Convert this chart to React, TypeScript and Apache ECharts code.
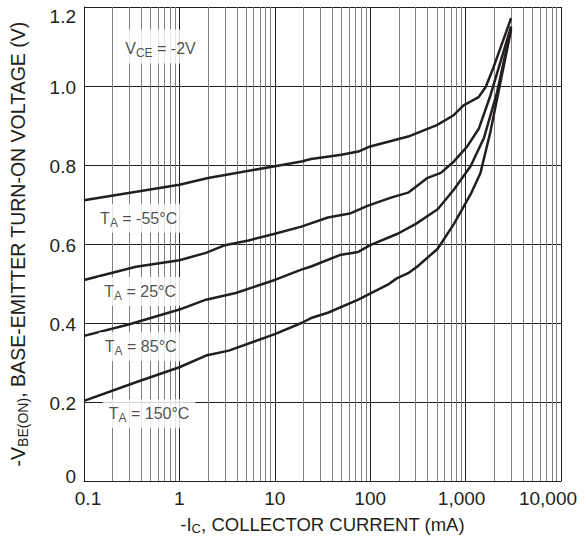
import React, { useEffect, useRef } from 'react';
import * as echarts from 'echarts';

// Collector current (mA) vs base-emitter turn-on voltage (V)
const tempMinus55: [number, number][] = [
  [0.1, 0.711], [1, 0.75], [2, 0.767], [10, 0.797], [19, 0.809], [24, 0.815], [50, 0.826],
  [75, 0.834], [100, 0.847], [250, 0.872], [500, 0.901], [750, 0.926], [950, 0.951],
  [1370, 0.972], [1620, 0.997], [1960, 1.047], [3000, 1.172],
];
const temp25: [number, number][] = [
  [0.1, 0.509], [0.35, 0.5425], [1, 0.559], [1.9, 0.5775], [3, 0.597], [5.3, 0.609],
  [10, 0.626], [19, 0.644], [36, 0.667], [61, 0.677], [95, 0.697], [165, 0.7175],
  [250, 0.73], [400, 0.7675], [550, 0.78], [755, 0.809], [1040, 0.847], [1380, 0.8925],
  [1820, 0.976], [3000, 1.151],
];
const temp85: [number, number][] = [
  [0.1, 0.3675], [0.3, 0.397], [1, 0.434], [1.9, 0.459], [3.9, 0.476], [10, 0.509],
  [19, 0.535], [24, 0.543], [48, 0.572], [75, 0.58], [100, 0.597], [194, 0.626],
  [301, 0.651], [510, 0.688], [755, 0.738], [1127, 0.797], [1552, 0.8675],
  [2138, 0.984], [3000, 1.148],
];
const temp150: [number, number][] = [
  [0.1, 0.203], [0.35, 0.25], [1, 0.288], [1.9, 0.3175], [3.3, 0.33], [10, 0.372],
  [19, 0.4], [24, 0.4125], [36, 0.426], [75, 0.459], [95, 0.472],
  [153, 0.497], [190, 0.513], [250, 0.526], [310, 0.5425], [510, 0.588], [755, 0.651],
  [1130, 0.726], [1432, 0.78], [1820, 0.884], [2316, 1.009], [3000, 1.1425],
];

const xTickLabels: Record<number, string> = {
  [-1]: '{a|0.1}', 0: '{n|1}', 1: '{n|10}', 2: '{n|100}', 3: '{c|1,000}', 4: '{d|10,000}',
};
const minorDecades = [0.1, 1, 10, 100, 1000];
const minorSteps = [2, 3, 4, 5, 6, 7, 8, 9];

const annotationTexts = [
  '{m|V}{s|CE}{m| = -2V}',
  '{m|T}{s|A}{m| = -55°C}',
  '{m|T}{s|A}{m| = 25°C}',
  '{m|T}{s|A}{m| = 85°C}',
  '{m|T}{s|A}{m| = 150°C}',
];
const annotationAnchors: [number, number][] = [
  [0.634, 1.1], [0.374, 0.665], [0.388, 0.48], [0.393, 0.34], [0.481, 0.17],
];

const INK = '#231f20';
const FONT = '"Liberation Sans", Arial, sans-serif';

export default function App() {
  const ref = useRef<HTMLDivElement>(null);
  useEffect(() => {
    document.body.style.margin = '0';
    if (!ref.current) return;
    const chart = echarts.init(ref.current, undefined, { renderer: 'svg' });
    const minorValues: number[] = [];
    minorDecades.forEach((d) => minorSteps.forEach((k) => minorValues.push(d * k)));
    const curveSeries = [tempMinus55, temp25, temp85, temp150].map((data, i) => ({
      name: 'curve' + i,
      type: 'line',
      data,
      showSymbol: false,
      symbol: 'none',
      z: 3,
      lineStyle: { color: INK, width: 2.5 },
    }));
    const labelRich = {
      m: { fontSize: 16, color: INK, fontFamily: FONT },
      s: { fontSize: 12, color: INK, fontFamily: FONT, padding: [9, 0, 0, 0] },
    };
    chart.setOption({
      animation: false,
      backgroundColor: '#fff',
      textStyle: { fontFamily: FONT },
      grid: { left: 81, top: 7, right: 25, bottom: 53, containLabel: false },
      xAxis: {
        type: 'log',
        logBase: 10,
        min: 0.1,
        max: 10000,
        axisLine: { show: true, lineStyle: { color: INK, width: 1 } },
        axisTick: { show: false },
        splitLine: { show: true, lineStyle: { color: INK, width: 1 } },
        axisLabel: {
          margin: 8,
          fontSize: 19,
          color: INK,
          formatter: (v: number) => xTickLabels[Math.round(Math.log10(v))] ?? String(v),
          rich: {
            a: { fontSize: 19, color: INK, padding: [0, 0, 0, 8] },
            n: { fontSize: 19, color: INK },
            c: { fontSize: 19, color: INK, padding: [0, 8, 0, 0] },
            d: { fontSize: 19, color: INK, padding: [0, 26, 0, 0] },
          },
        },
        name: '-I{s|C}, COLLECTOR CURRENT (mA)',
        nameLocation: 'middle',
        nameGap: 32,
        nameTextStyle: {
          fontSize: 18.5,
          color: INK,
          rich: { s: { fontSize: 13, color: INK, padding: [9, 0, 0, 0] } },
        },
      },
      yAxis: {
        type: 'value',
        min: 0,
        max: 1.2,
        interval: 0.2,
        axisLine: { show: true, lineStyle: { color: INK, width: 1 } },
        axisTick: { show: false },
        splitLine: { show: true, lineStyle: { color: INK, width: 1 } },
        axisLabel: {
          margin: 8,
          fontSize: 19,
          color: INK,
          formatter: (v: number) => {
            if (Math.abs(v) < 1e-9) return '{b|0}';
            if (Math.abs(v - 1.2) < 1e-9) return '{t|1.2}';
            return '{n|' + v.toFixed(1) + '}';
          },
          rich: {
            t: { fontSize: 19, color: INK, padding: [18, 0, 0, 0] },
            n: { fontSize: 19, color: INK, padding: [3, 0, 0, 0] },
            b: { fontSize: 19, color: INK, padding: [0, 0, 9, 0] },
          },
        },
        name: '-V{s|BE(ON)}, BASE-EMITTER TURN-ON VOLTAGE (V)',
        nameLocation: 'middle',
        nameGap: 54,
        nameTextStyle: {
          fontSize: 19.5,
          color: INK,
          rich: { s: { fontSize: 14, color: INK, padding: [10, 0, 0, 0] } },
        },
      },
      series: [
        {
          name: 'minorGrid',
          type: 'line',
          data: [],
          z: 1,
          silent: true,
          markLine: {
            silent: true,
            z: 1,
            symbol: ['none', 'none'],
            label: { show: false },
            lineStyle: { color: '#808080', width: 1, type: 'solid' },
            emphasis: { disabled: true },
            data: minorValues.map((v) => ({ xAxis: v })),
          },
        },
        ...curveSeries,
        {
          name: 'annotations',
          type: 'scatter',
          z: 10,
          symbolSize: 0,
          silent: true,
          data: annotationAnchors.map((p, i) => ({
            value: p,
            label: {
              show: true,
              position: 'inside',
              formatter: annotationTexts[i],
              backgroundColor: '#fff',
              padding: i === 0 ? [8, 9, 5, 9] : [4, 6, 4, 6],
              rich: labelRich,
            },
          })),
        },
      ],
    });
    return () => chart.dispose();
  }, []);
  return <div ref={ref} style={{ width: 586, height: 540 }} />;
}
